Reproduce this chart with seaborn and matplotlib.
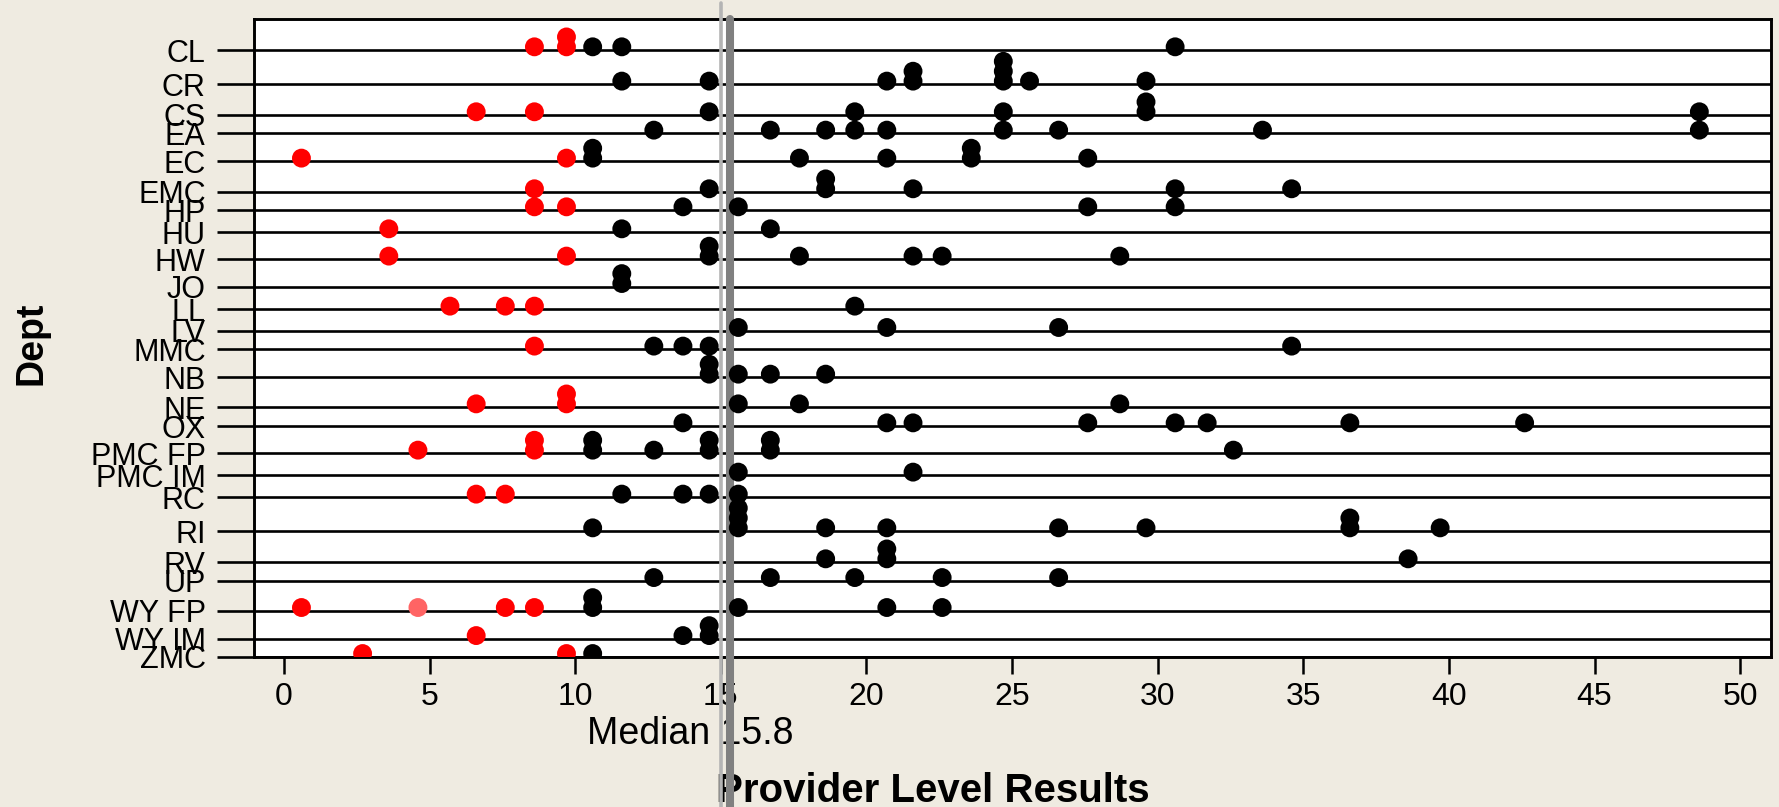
import matplotlib
matplotlib.use("Agg")
import matplotlib.pyplot as plt
import numpy as np
import pandas as pd
import seaborn as sns

# ---------------- data ----------------
depts = ["CL", "CR", "CS", "EA", "EC", "EMC", "HP", "HU", "HW", "JO", "LL", "LV",
         "MMC", "NB", "NE", "OX", "PMC FP", "PMC IM", "RC", "RI", "RV", "UP",
         "WY FP", "WY IM", "ZMC"]

# vertical placement of each department row (JMP layout, 0 = top, 100 = bottom)
dept_pos = [4.82, 10.20, 15.01, 17.89, 22.28, 27.09, 29.92, 33.37, 37.65, 41.95,
            45.50, 48.85, 51.77, 56.17, 60.83, 63.81, 68.09, 71.54, 74.99, 80.28,
            85.14, 88.08, 92.78, 97.18, 100.0]

dept_values = [
    [8.6, 9.7, 9.7, 10.6, 11.6, 30.6],                                   # CL
    [11.6, 14.6, 20.7, 21.6, 21.6, 24.7, 24.7, 24.7, 25.6, 29.6],         # CR
    [6.6, 8.6, 14.6, 19.6, 24.7, 29.6, 29.6, 48.6],                       # CS
    [12.7, 16.7, 18.6, 19.6, 20.7, 24.7, 26.6, 33.6, 48.6],               # EA
    [0.6, 9.7, 10.6, 10.6, 17.7, 20.7, 23.6, 23.6, 27.6],                 # EC
    [8.6, 14.6, 18.6, 18.6, 21.6, 30.6, 34.6],                            # EMC
    [8.6, 9.7, 13.7, 15.6, 27.6, 30.6],                                   # HP
    [3.6, 11.6, 16.7],                                                    # HU
    [3.6, 9.7, 14.6, 14.6, 17.7, 21.6, 22.6, 28.7],                       # HW
    [11.6, 11.6],                                                         # JO
    [5.7, 7.6, 8.6, 19.6],                                                # LL
    [15.6, 20.7, 26.6],                                                   # LV
    [8.6, 12.7, 13.7, 14.6, 34.6],                                        # MMC
    [14.6, 14.6, 15.6, 16.7, 18.6],                                       # NB
    [6.6, 9.7, 9.7, 15.6, 17.7, 28.7],                                    # NE
    [13.7, 20.7, 21.6, 27.6, 30.6, 31.7, 36.6, 42.6],                     # OX
    [4.6, 8.6, 8.6, 10.6, 10.6, 12.7, 14.6, 14.6, 16.7, 16.7, 32.6],      # PMC FP
    [15.6, 21.6],                                                         # PMC IM
    [6.6, 7.6, 11.6, 13.7, 14.6, 15.6],                                   # RC
    [10.6, 15.6, 15.6, 15.6, 18.6, 20.7, 26.6, 29.6, 36.6, 36.6, 39.7],   # RI
    [18.6, 20.7, 20.7, 38.6],                                             # RV
    [12.7, 16.7, 19.6, 22.6, 26.6],                                       # UP
    [0.6, 4.6, 7.6, 8.6, 10.6, 10.6, 15.6, 20.7, 22.6],                   # WY FP
    [6.6, 13.7, 14.6, 14.6],                                              # WY IM
    [2.7, 9.7, 10.6],                                                     # ZMC
]

pale_points = [("WY FP", 4.6)]
red_below = 10.0
median_value = 15.8
median_line_x = 15.3
reference_line_x = 15.0
x_ticks = [0, 5, 10, 15, 20, 25, 30, 35, 40, 45, 50]

# ---------------- build frame ----------------
rows = []
for name, pos, vals in zip(depts, dept_pos, dept_values):
    seen = {}
    for v in vals:
        k = seen.get(v, 0)
        seen[v] = k + 1
        if (name, v) in pale_points:
            grp = "pale"
        elif v < red_below:
            grp = "low"
        else:
            grp = "normal"
        rows.append({"Dept": name, "value": v, "y": pos - 0.5 - 1.55 * k, "grp": grp})
df = pd.DataFrame(rows)

# ---------------- style ----------------
sns.set_style("white")
plt.rcParams["font.family"] = ["Liberation Sans", "DejaVu Sans"]
plt.rcParams["text.color"] = "black"
plt.rcParams["xtick.color"] = "black"
plt.rcParams["ytick.color"] = "black"
plt.rcParams["xtick.labelcolor"] = "black"
plt.rcParams["ytick.labelcolor"] = "black"
bg = "#EFEBE1"

fig = plt.figure(figsize=(17.79, 8.07), dpi=100, facecolor=bg)
ax = fig.add_axes([0.1426, 0.1862, 0.9955 - 0.1426, 0.9761 - 0.1862])
ax.set_facecolor("white")

sns.scatterplot(data=df, x="value", y="y", hue="grp",
                palette={"low": "#FF0000", "normal": "#000000", "pale": "#FF6464"},
                s=185, linewidth=0, legend=False, ax=ax, zorder=5)

ax.set_xlim(-1.04, 51.06)
ax.set_ylim(100, 0)
ax.set_xticks(x_ticks)
ax.set_xticklabels([str(t) for t in x_ticks])
ax.set_yticks(dept_pos)
ax.set_yticklabels(depts)

ax.grid(axis="y", color="black", linewidth=1.9, zorder=1)
ax.grid(axis="x", visible=False)
ax.set_axisbelow(True)

ax.tick_params(axis="y", direction="out", length=26.6, width=1.9, color="black",
               labelcolor="black", labelsize=22, pad=8, left=True)
ax.tick_params(axis="x", direction="out", length=12, width=1.8, color="black",
               labelcolor="black", labelsize=23, pad=6, bottom=True)

for sp in ax.spines.values():
    sp.set_color("black")
    sp.set_linewidth(2.1)

ax.set_xlabel("")
ax.set_ylabel("")

# labels (as axes texts in figure coords so the median lines draw over them)
ax.text(690 / 1779, 1 - 734 / 807, f"Median {median_value}", transform=fig.transFigure,
        ha="center", va="center", fontsize=27, color="black", clip_on=False, zorder=2)
ax.text(933 / 1779, 1 - 791 / 807, "Provider Level Results", transform=fig.transFigure,
        ha="center", va="center", fontsize=29, fontweight="bold", color="black",
        clip_on=False, zorder=2)
ax.text(32 / 1779, 1 - 343 / 807, "Dept", transform=fig.transFigure, rotation=90,
        ha="center", va="center", fontsize=27, fontweight="bold", color="black",
        clip_on=False, zorder=2)

# median reference lines extending below the axis
ax.axvline(reference_line_x, ymin=-0.236, ymax=1.026, color="#B4B4B4", linewidth=2.6,
           clip_on=False, zorder=4)
ax.axvline(median_line_x, ymin=-0.236, ymax=1.0, color="#808080", linewidth=5.8,
           clip_on=False, zorder=4)

fig.savefig("out.png", dpi=100, facecolor=bg)
